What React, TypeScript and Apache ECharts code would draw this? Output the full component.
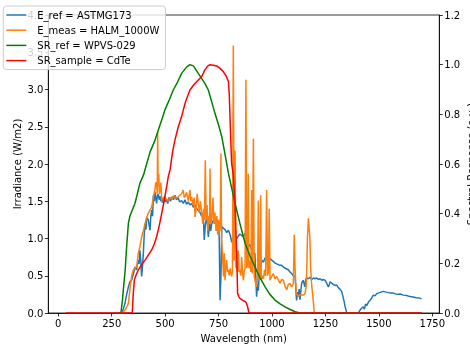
import React, { useEffect, useRef } from "react";
import * as echarts from "echarts";

// E_ref = ASTMG173 (left axis, W/m2)
const eRefWl = [280, 297, 305, 312, 320, 328, 335, 343, 351, 359, 366, 374, 378, 382, 386, 390, 394, 398, 402, 406, 410, 414, 421, 425, 429, 433, 437, 441, 445, 449, 452, 456, 460, 464, 468, 472, 476, 480, 484, 488, 492, 499, 505, 512, 518, 525, 532, 539, 546, 553, 560, 568, 577, 585, 593, 600, 608, 616, 624, 632, 640, 648, 655, 663, 671, 678, 683, 688, 695, 702, 708, 713, 718, 725, 733, 741, 749, 753, 757, 761, 765, 772, 780, 788, 796, 804, 812, 819, 827, 835, 842, 850, 858, 866, 874, 881, 889, 897, 905, 913, 920, 924, 928, 932, 936, 940, 945, 952, 960, 967, 975, 983, 991, 999, 1007, 1015, 1022, 1030, 1037, 1045, 1053, 1061, 1069, 1076, 1084, 1092, 1100, 1108, 1112, 1115, 1119, 1123, 1127, 1131, 1135, 1139, 1146, 1154, 1158, 1162, 1170, 1178, 1186, 1194, 1202, 1209, 1217, 1225, 1233, 1240, 1248, 1256, 1264, 1268, 1272, 1280, 1288, 1296, 1303, 1310, 1318, 1326, 1332, 1338, 1342, 1350, 1404, 1410, 1418, 1427, 1432, 1438, 1444, 1452, 1459, 1466, 1474, 1482, 1490, 1500, 1510, 1521, 1535, 1550, 1565, 1584, 1600, 1615, 1630, 1646, 1660, 1675, 1690, 1700];
const eRefVal = [0, 0, 0.06, 0.13, 0.25, 0.35, 0.42, 0.44, 0.52, 0.62, 0.58, 0.71, 0.66, 0.84, 0.7, 0.49, 0.62, 0.8, 1.05, 1.2, 1.12, 1.28, 1.25, 1.18, 1.11, 1.3, 1.38, 1.3, 1.58, 1.5, 1.63, 1.55, 1.47, 1.58, 1.6, 1.52, 1.57, 1.5, 1.54, 1.48, 1.55, 1.49, 1.53, 1.47, 1.55, 1.5, 1.56, 1.52, 1.58, 1.52, 1.55, 1.49, 1.51, 1.47, 1.52, 1.46, 1.49, 1.45, 1.47, 1.42, 1.45, 1.4, 1.38, 1.35, 1.3, 1.34, 0.98, 1.18, 1.3, 1.02, 1.22, 1.1, 1.2, 1.24, 1.2, 1.25, 1.22, 1.0, 0.17, 0.5, 1.16, 1.14, 1.12, 1.08, 1.11, 1.05, 0.95, 1.04, 1.02, 1.0, 1.03, 1.06, 1.04, 1.02, 1.07, 0.98, 0.89, 0.92, 0.84, 0.8, 0.8, 0.5, 0.22, 0.4, 0.3, 0.5, 0.62, 0.71, 0.68, 0.74, 0.72, 0.7, 0.73, 0.71, 0.69, 0.67, 0.66, 0.65, 0.64, 0.64, 0.62, 0.6, 0.59, 0.58, 0.55, 0.53, 0.5, 0.49, 0.3, 0.17, 0.28, 0.22, 0.32, 0.18, 0.3, 0.4, 0.44, 0.35, 0.45, 0.47, 0.46, 0.48, 0.45, 0.47, 0.46, 0.47, 0.45, 0.46, 0.44, 0.45, 0.44, 0.4, 0.35, 0.38, 0.42, 0.4, 0.38, 0.37, 0.375, 0.34, 0.32, 0.29, 0.22, 0.15, 0.085, 0, 0, 0.03, 0.06, 0.085, 0.05, 0.12, 0.1, 0.15, 0.17, 0.2, 0.24, 0.23, 0.26, 0.27, 0.28, 0.29, 0.28, 0.27, 0.27, 0.25, 0.255, 0.24, 0.235, 0.22, 0.215, 0.205, 0.2, 0.19];

// E_meas = HALM_1000W (left axis, W/m2)
const eMeasWl = [297, 305, 312, 320, 328, 335, 343, 351, 359, 367, 374, 382, 390, 398, 406, 413, 421, 429, 437, 445, 452, 456, 460, 463, 465, 467, 470, 473, 476, 480, 484, 492, 499, 507, 515, 522, 530, 538, 546, 553, 561, 569, 577, 585, 589, 593, 600, 608, 616, 620, 624, 630, 636, 640, 645, 650, 655, 660, 665, 671, 676, 680, 684, 688, 692, 696, 700, 704, 708, 710, 713, 718, 724, 728, 733, 738, 742, 746, 750, 755, 758, 761, 764, 768, 773, 777, 780, 784, 788, 792, 796, 800, 805, 811, 815, 819, 823, 827, 831, 835, 838, 842, 846, 850, 854, 858, 862, 866, 870, 874, 878, 882, 886, 889, 892, 897, 901, 905, 908, 913, 917, 920, 924, 928, 932, 936, 940, 944, 947, 950, 956, 960, 965, 970, 975, 979, 983, 987, 991, 997, 1006, 1014, 1022, 1030, 1037, 1045, 1053, 1061, 1069, 1076, 1084, 1092, 1100, 1104, 1108, 1112, 1115, 1123, 1131, 1139, 1147, 1154, 1160, 1162, 1166, 1170, 1173, 1177, 1181, 1185, 1190, 1193, 1198];
const eMeasVal = [0, 0.02, 0.04, 0.08, 0.13, 0.31, 0.49, 0.58, 0.6, 0.62, 0.8, 0.89, 1.02, 1.1, 1.2, 1.28, 1.34, 1.38, 1.42, 1.56, 1.65, 1.75, 1.74, 1.6, 2.43, 1.7, 1.87, 1.6, 1.65, 1.75, 1.51, 1.55, 1.56, 1.52, 1.51, 1.55, 1.53, 1.57, 1.56, 1.54, 1.56, 1.58, 1.6, 1.65, 1.55, 1.56, 1.62, 1.51, 1.65, 1.5, 1.56, 1.45, 1.55, 1.29, 1.4, 1.6, 1.47, 1.35, 1.5, 1.34, 1.2, 1.4, 1.25, 2.05, 1.25, 1.45, 1.1, 1.3, 1.2, 1.94, 1.2, 1.25, 1.55, 1.2, 1.35, 1.1, 1.3, 1.05, 1.25, 1.1, 1.2, 2.14, 1.0, 0.8, 0.49, 0.8, 0.44, 0.6, 0.71, 0.55, 0.58, 0.5, 0.6, 0.49, 0.55, 3.59, 0.7, 2.18, 0.6, 0.67, 0.55, 0.84, 0.55, 0.58, 0.5, 0.75, 0.55, 0.44, 0.55, 0.6, 3.13, 0.6, 0.67, 1.87, 0.6, 0.7, 0.55, 1.65, 0.53, 2.34, 0.5, 0.44, 0.4, 0.35, 0.45, 1.51, 0.45, 0.5, 1.58, 0.44, 0.5, 0.46, 0.58, 0.5, 1.65, 0.5, 0.55, 1.4, 0.44, 0.48, 0.53, 0.46, 0.49, 0.44, 0.4, 0.45, 0.44, 0.36, 0.31, 0.38, 0.4, 0.35, 0.4, 1.05, 0.6, 0.35, 0.26, 0.22, 0.25, 0.24, 0.24, 0.26, 0.35, 0.49, 1.02, 1.27, 1.27, 1.02, 0.6, 0.4, 0.25, 0.17, 0];

// SR_ref = WPVS-029 (right axis, a.u.)
const srRefWl = [280, 293, 300, 305, 313, 320, 328, 335, 343, 351, 359, 370, 382, 399, 410, 430, 450, 468, 485, 499, 520, 538, 558, 577, 600, 616, 632, 655, 686, 702, 718, 733, 749, 765, 780, 796, 812, 827, 850, 874, 897, 920, 945, 967, 990, 1014, 1038, 1061, 1085, 1108, 1130, 1700];
const srRefVal = [0, 0, 0.05, 0.1, 0.173, 0.27, 0.361, 0.39, 0.408, 0.425, 0.442, 0.48, 0.523, 0.556, 0.59, 0.65, 0.69, 0.737, 0.78, 0.818, 0.86, 0.898, 0.93, 0.965, 0.99, 1.0, 0.995, 0.965, 0.925, 0.898, 0.85, 0.804, 0.76, 0.71, 0.64, 0.563, 0.5, 0.442, 0.36, 0.281, 0.23, 0.186, 0.14, 0.106, 0.075, 0.052, 0.037, 0.025, 0.014, 0.005, 0, 0];

// SR_sample = CdTe (right axis, a.u.)
const srSampleWl = [35, 340, 346, 351, 356, 365, 374, 390, 406, 421, 437, 450, 460, 472, 484, 495, 507, 515, 523, 535, 546, 560, 577, 595, 616, 635, 655, 671, 686, 700, 710, 725, 741, 757, 772, 785, 796, 800, 803, 807, 811, 815, 819, 823, 827, 831, 835, 839, 845, 850, 862, 874, 880, 886, 892, 1700];
const srSampleVal = [0, 0, 0, 0.08, 0.134, 0.155, 0.173, 0.195, 0.213, 0.233, 0.254, 0.28, 0.307, 0.35, 0.401, 0.45, 0.509, 0.55, 0.576, 0.65, 0.697, 0.745, 0.791, 0.85, 0.898, 0.92, 0.938, 0.952, 0.979, 0.995, 1.0, 0.998, 0.995, 0.985, 0.972, 0.955, 0.932, 0.88, 0.804, 0.7, 0.603, 0.58, 0.556, 0.5, 0.442, 0.33, 0.24, 0.079, 0.065, 0.059, 0.052, 0.046, 0.04, 0.025, 0, 0];

const xTicks = [0, 250, 500, 750, 1000, 1250, 1500, 1750];
const seriesNames = ["E_ref = ASTMG173", "E_meas = HALM_1000W", "SR_ref = WPVS-029", "SR_sample = CdTe"];
const seriesColors = ["#1f77b4", "#ff7f0e", "#008000", "#ff0000"];

const zip = (a: number[], b: number[]) => a.map((x, i) => [x, b[i]]);

export default function App() {
  const ref = useRef<HTMLDivElement>(null);
  useEffect(() => {
    const chart = echarts.init(ref.current!, null, { renderer: "svg" });
    const font = "DejaVu Sans";
    const txt = { color: "#000", fontSize: 10, fontFamily: font };
    const axLine = { show: true, onZero: false, lineStyle: { color: "#000", width: 0.8 } };
    const tick = { show: true, length: 3.5, lineStyle: { color: "#000", width: 0.8 } };
    const mk = (i: number, data: number[][], yAxisIndex: number) => ({
      name: seriesNames[i],
      type: "line",
      data,
      yAxisIndex,
      symbol: "none",
      showSymbol: false,
      color: seriesColors[i],
      lineStyle: { color: seriesColors[i], width: 1.5 },
      emphasis: { disabled: true },
    });
    chart.setOption({
      animation: false,
      textStyle: { fontFamily: font },
      grid: {
        left: 48.3,
        right: 30.7,
        top: 15,
        bottom: 32,
        containLabel: false,
        outerBoundsMode: "none",
        show: true,
        borderColor: "#000",
        borderWidth: 0.8,
        backgroundColor: "transparent",
      },
      legend: {
        orient: "vertical",
        left: 3.3,
        top: 6,
        data: seriesNames.map((n) => ({ name: n, icon: "rect" })),
        itemWidth: 20,
        itemHeight: 1.5,
        itemGap: 3.2,
        padding: [3, 6, 3, 3],
        backgroundColor: "rgba(255,255,255,0.8)",
        borderColor: "#cccccc",
        borderWidth: 1,
        borderRadius: 3,
        textStyle: { ...txt, lineHeight: 12, padding: [0, 0, 0, 6] },
      },
      xAxis: {
        type: "value",
        min: -46.8,
        max: 1782.9,
        axisLine: axLine,
        axisTick: { ...tick, customValues: xTicks },
        axisLabel: { ...txt, margin: 5, customValues: xTicks, formatter: (v: number) => String(v) },
        splitLine: { show: false },
        name: "Wavelength (nm)",
        nameLocation: "middle",
        nameGap: 20,
        nameTextStyle: txt,
      },
      yAxis: [
        {
          type: "value",
          min: 0,
          max: 4,
          interval: 0.5,
          position: "left",
          axisLine: axLine,
          axisTick: tick,
          axisLabel: { ...txt, margin: 5, formatter: (v: number) => v.toFixed(1) },
          splitLine: { show: false },
          name: "Irradiance (W/m2)",
          nameLocation: "middle",
          nameGap: 26,
          nameMoveOverlap: false,
          nameTextStyle: txt,
        },
        {
          type: "value",
          min: 0,
          max: 1.2,
          interval: 0.2,
          position: "right",
          axisLine: axLine,
          axisTick: tick,
          axisLabel: { ...txt, margin: 5, formatter: (v: number) => v.toFixed(1) },
          splitLine: { show: false },
          name: "Spectral Response (a.u.)",
          nameLocation: "middle",
          nameGap: 27,
          nameMoveOverlap: false,
          nameRotate: 90,
          nameTextStyle: txt,
        },
      ],
      series: [
        mk(0, zip(eRefWl, eRefVal), 0),
        mk(1, zip(eMeasWl, eMeasVal), 0),
        mk(2, zip(srRefWl, srRefVal), 1),
        mk(3, zip(srSampleWl, srSampleVal), 1),
      ],
    });
    return () => chart.dispose();
  }, []);
  return <div ref={ref} style={{ position: "fixed", left: 0, top: 0, width: 470, height: 345 }} />;
}
